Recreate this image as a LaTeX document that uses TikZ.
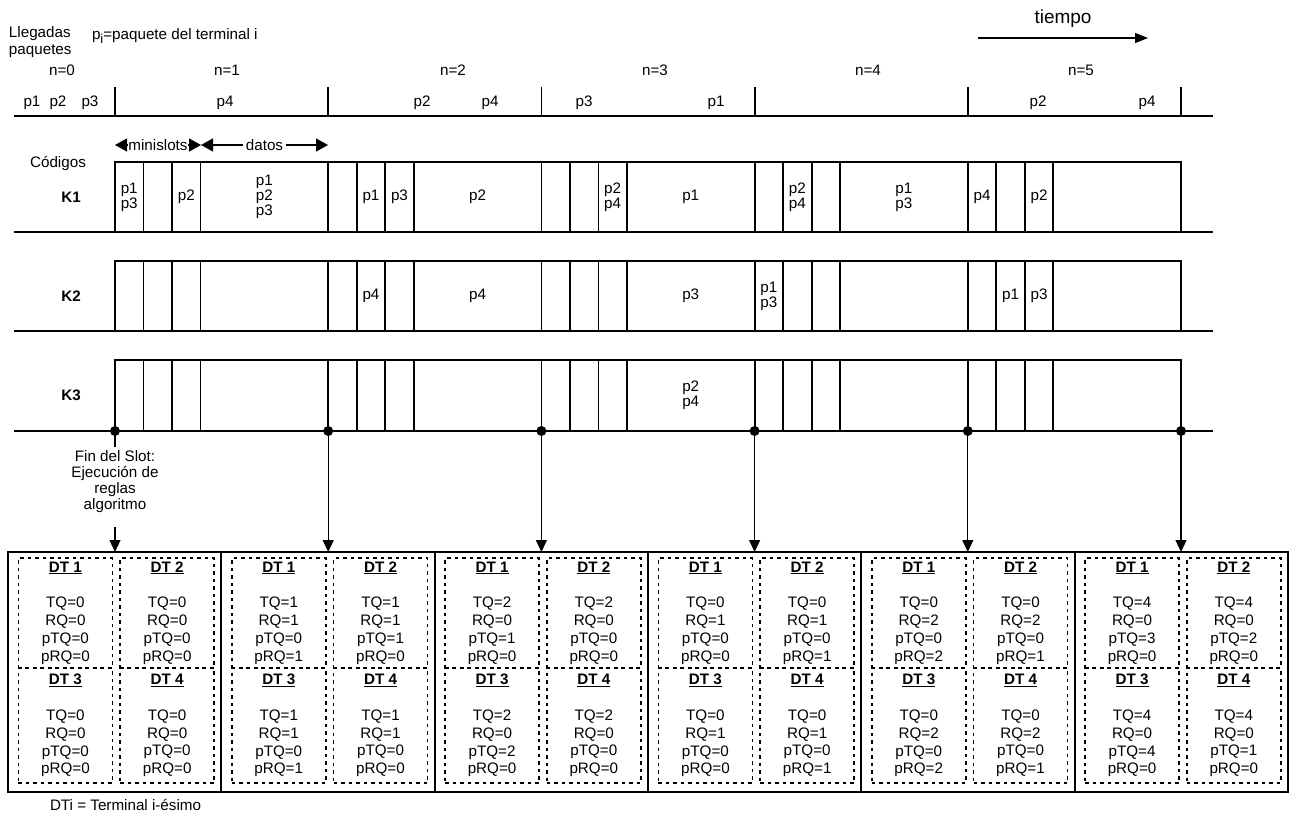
\documentclass[tikz,border=0pt]{standalone}
\usepackage{fontspec}
\setmainfont{Liberation Sans}
\usetikzlibrary{arrows.meta}
\newcommand\cellt[5]{% name, row top, slot, x offset, text
  \node[celltxt] (#1) at ({115+213.2*#3+#4}, {#2+35}) {#5};}
\newcommand\dtc[8]{% name, x, y, h, n, tq, rq, ptq/prq
  \node[dtcell, minimum height=#4pt] (#1) at (#2,#3) {\underline{\textbf{DT #5}}\\[18pt]TQ=#6\\RQ=#7\\#8};}
\begin{document}
\begin{tikzpicture}[x=1pt,y=-1pt, line width=1.8pt,
  every node/.style={font=\fontsize{15.2}{15}\selectfont, inner sep=0pt, outer sep=0pt},
  celltxt/.style={align=center},
  dtcell/.style={draw, dash pattern=on 3.5pt off 4pt, line width=1.5pt, minimum width=94pt,
     align=center, font=\fontsize{15.2}{17.8}\selectfont},
  outerbox/.style={draw, line width=1.8pt, minimum width=213.33pt, minimum height=240pt},
  tri/.style={-{Triangle[length=12pt,width=11pt]}, line width=1.2pt},
  dbl/.style={{Triangle[length=12pt,width=13pt]}-{Triangle[length=12pt,width=13pt]}, line width=1.2pt}]
\useasboundingbox (0,0) rectangle (1289,818);

% ---------- header ----------
\node[anchor=west, align=left, font=\fontsize{15.2}{17}\selectfont] (lleg) at (9,42) {Llegadas\\paquetes};
\node[anchor=west] (pdef) at (92,36) {p\raisebox{-4pt}{\fontsize{13}{13}\selectfont i}=paquete del terminal i};
\node[font=\fontsize{19}{19}\selectfont] (tiempo) at (1063,19) {tiempo};
\coordinate (tA) at (978,38);
\coordinate (tB) at (1148,38);
\draw[-{Triangle[length=13pt,width=10pt]}, line width=1.2pt] (tA) -- (tB);

\foreach \n/\x in {0/62,1/227,2/453,3/655,4/868,5/1081}
  \node (n\n) at (\x,70) {n=\n};

% arrivals line
\draw (14,116) -- (1213,116);
\foreach \k in {0,...,5}
  \draw ({115+213.2*\k},87) -- ({115+213.2*\k},116);
\foreach \i/\p/\x in {1/p1/32,2/p2/58,3/p3/90,4/p4/225,5/p2/422,6/p4/490,7/p3/584,8/p1/716,9/p2/1038,10/p4/1147}
  \node (a\i) at (\x,103) {\p};

% minislots / datos
\coordinate (msL) at (115,145);
\coordinate (msR) at (201,145);
\coordinate (dtR) at (328,145);
\draw[dbl] (msL) -- node[fill=white, inner xsep=0.5pt] (msl) {minislots} (msR);
\draw[dbl] (msR) -- node[fill=white, inner xsep=3pt] (dat) {datos} (dtR);

\node (cod) at (58,163) {Códigos};

% ---------- code rows ----------
\foreach \r/\t/\b in {1/162/232,2/261/331,3/360/431}{
  \node[font=\fontsize{15.2}{15}\selectfont\bfseries] (K\r) at (71,{(\t+\b)/2}) {K\r};
  \draw (14,\b) -- (1213,\b);
  \draw (115,\b) -- (115,\t) -- (1181,\t) -- (1181,\b);
  \foreach \k in {0,...,4}
    \foreach \o in {0,28.5,57,85.5}
      \draw ({115+213.2*\k+\o},\t) -- ({115+213.2*\k+\o},\b);
}

% K1
\cellt{c1a}{162}{0}{14.25}{p1\\p3}
\cellt{c1b}{162}{0}{71.25}{p2}
\cellt{c1c}{162}{0}{149.3}{p1\\p2\\p3}
\cellt{c1d}{162}{1}{42.75}{p1}
\cellt{c1e}{162}{1}{71.25}{p3}
\cellt{c1f}{162}{1}{149.3}{p2}
\cellt{c1g}{162}{2}{71.25}{p2\\p4}
\cellt{c1h}{162}{2}{149.3}{p1}
\cellt{c1i}{162}{3}{42.75}{p2\\p4}
\cellt{c1j}{162}{3}{149.3}{p1\\p3}
\cellt{c1k}{162}{4}{14.25}{p4}
\cellt{c1l}{162}{4}{71.25}{p2}
% K2
\cellt{c2a}{261}{1}{42.75}{p4}
\cellt{c2b}{261}{1}{149.3}{p4}
\cellt{c2c}{261}{2}{149.3}{p3}
\cellt{c2d}{261}{3}{14.25}{p1\\p3}
\cellt{c2e}{261}{4}{42.75}{p1}
\cellt{c2f}{261}{4}{71.25}{p3}
% K3
\cellt{c3a}{360}{2}{149.3}{p2\\p4}

% ---------- end-of-slot dots and boxes ----------
\foreach \k in {0,...,5}{
  \coordinate (d\k) at ({115+213.2*\k},431);
  \fill (d\k) circle (5);
  \node[outerbox] (B\k) at ({114.67+213.33*\k},672) {};
}
\node[align=center, font=\fontsize{15.2}{16}\selectfont, inner ysep=4pt] (fin) at (115,482)
  {Fin del Slot:\\Ejecución de\\reglas\\algoritmo};
\draw[line width=1.2pt] (d0) -- (d0 |- fin.north);
\draw[tri, shorten <=10pt] (d0 |- fin.south) -- (d0 |- B0.north);
\foreach \k in {1,...,5}
  \draw[tri] (d\k) -- (d\k |- B\k.north);

% ---------- terminal states ----------
\foreach \k/\ta/\ra/\pa/\qa/\tb/\rb/\pb/\qb/\tc/\rc/\pc/\qc/\td/\rd/\pd/\qd in {
 0/0/0/0/0/0/0/0/0/0/0/0/0/0/0/0/0,
 1/1/1/0/1/1/1/1/0/1/1/0/1/1/1/0/0,
 2/2/0/1/0/2/0/0/0/2/0/2/0/2/0/0/0,
 3/0/1/0/0/0/1/0/1/0/1/0/0/0/1/0/1,
 4/0/2/0/2/0/2/0/1/0/2/0/2/0/2/0/1,
 5/4/0/3/0/4/0/2/0/4/0/4/0/4/0/1/0}{
  \pgfmathsetmacro\xl{114.67+213.33*\k-49.25}
  \pgfmathsetmacro\xr{114.67+213.33*\k+52.5}
  \dtc{b\k t1}{\xl}{613}{110}{1}{\ta}{\ra}{pTQ=\pa\\pRQ=\qa}
  \dtc{b\k t2}{\xr}{613}{110}{2}{\tb}{\rb}{pTQ=\pb\\pRQ=\qb}
  \dtc{b\k t3}{\xl}{725.5}{115}{3}{\tc}{\rc}{pTQ=\pc\\pRQ=\qc}
  \dtc{b\k t4}{\xr}{725.5}{115}{4}{\td}{\rd}{pTQ=\pd\\pRQ=\qd}
}

\node[anchor=west] (legend) at (50,805) {DTi = Terminal i-ésimo};
\end{tikzpicture}
\end{document}
